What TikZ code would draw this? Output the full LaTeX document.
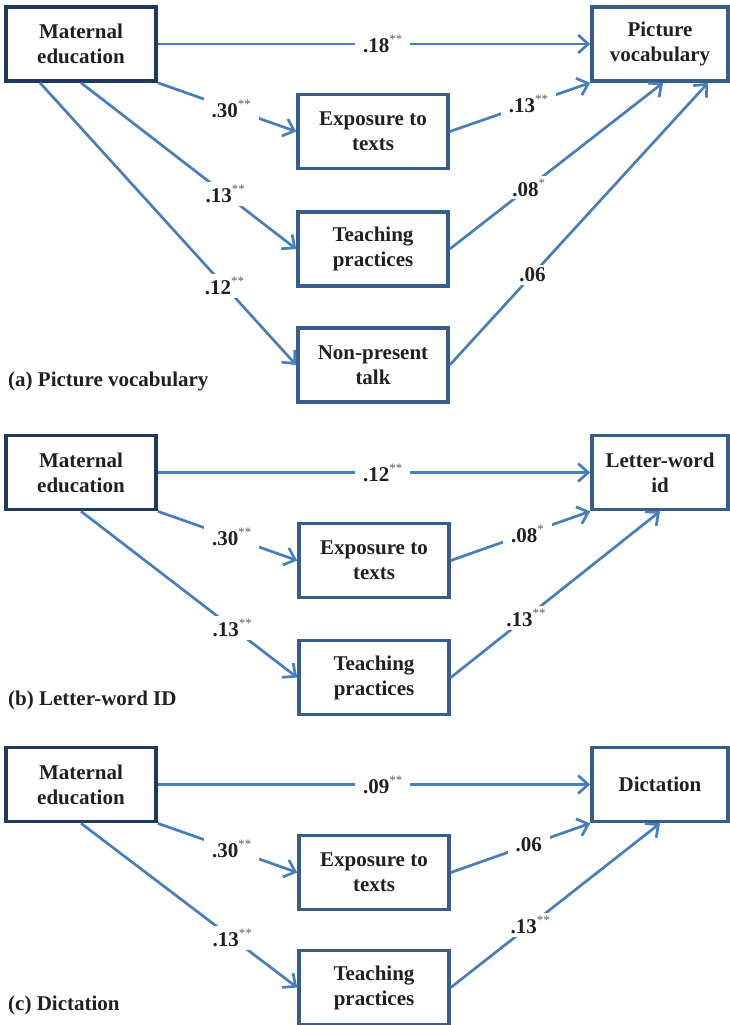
\documentclass[tikz,border=0pt]{standalone}
\usepackage{fontspec}
\setmainfont{Liberation Serif}
\usetikzlibrary{arrows.meta}

\definecolor{lineblue}{RGB}{74,126,187}
\definecolor{boxblue}{RGB}{56,93,138}
\definecolor{navy}{RGB}{31,56,96}
\definecolor{stargray}{RGB}{95,95,95}
\definecolor{inkblack}{RGB}{35,31,32}

\newcommand{\sig}[1]{\raisebox{9pt}{\mdseries\fontsize{13}{13}\selectfont\color{stargray}#1}}

\tikzset{
  var/.style={draw=boxblue, line width=3.6pt, align=center, minimum width=150pt,
    minimum height=74pt, inner sep=0pt, text=inkblack,
    font=\bfseries\fontsize{21}{25}\selectfont},
  exo/.style={var, draw=navy},
  outc/.style={var, minimum width=136pt},
  eff/.style={draw=lineblue, line width=2.7pt, -{Straight Barb[length=10pt,width=18pt]}},
  coef/.style={fill=white, inner xsep=8pt, inner ysep=3pt, text=inkblack,
    font=\bfseries\fontsize{21}{25}\selectfont},
  caption/.style={anchor=base west, inner sep=0pt, text=inkblack,
    font=\bfseries\fontsize{21}{25}\selectfont}
}

\begin{document}
\begin{tikzpicture}[x=1pt,y=-1pt]
    \useasboundingbox (0,0) rectangle (730,1025);

    % (a) picture vocabulary
    \node[exo] (mea) at (81,44) {Maternal\\education};
    \node[outc] (pva) at (660,44) {Picture\\vocabulary};
    \node[var] (expa) at (373,131.5) {Exposure to\\texts};
    \node[var] (teaa) at (373,249) {Teaching\\practices};
    \node[var] (npta) at (373,365) {Non-present\\talk};
    \node[caption] (capa) at (8,386) {(a) Picture vocabulary};

    \draw[eff] (mea.east) -- node[coef,pos=0.52] {.18\sig{**}} (pva.west);
    \draw[eff] (mea.south east) -- node[coef,pos=0.53] {.30\sig{**}} (expa.west);
    \draw[eff] (mea.south) -- node[coef,pos=0.67] {.13\sig{**}} (teaa.west);
    \draw[eff] ([xshift=-41pt]mea.south) -- node[coef,pos=0.72] {.12\sig{**}} (npta.west);
    \draw[eff] (expa.east) -- node[coef,pos=0.56] {.13\sig{**}} (pva.south west);
    \draw[eff] (teaa.east) -- node[coef,pos=0.37] {.08\sig{*}} ([xshift=3pt]pva.south);
    \draw[eff] (npta.east) -- node[coef,pos=0.32] {.06} ([xshift=48pt]pva.south);

    % (b) letter-word id
    \node[exo] (meb) at (81,472.5) {Maternal\\education};
    \node[outc] (lwb) at (660,472.5) {Letter-word\\id};
    \node[var] (expb) at (374,560.5) {Exposure to\\texts};
    \node[var] (teab) at (374,677.5) {Teaching\\practices};
    \node[caption] (capb) at (8,705) {(b) Letter-word ID};

    \draw[eff] (meb.east) -- node[coef,pos=0.52] {.12\sig{**}} (lwb.west);
    \draw[eff] (meb.south east) -- node[coef,pos=0.53] {.30\sig{**}} (expb.west);
    \draw[eff] (meb.south) -- node[coef,pos=0.70] {.13\sig{**}} (teab.west);
    \draw[eff] (expb.east) -- node[coef,pos=0.55] {.08\sig{*}} (lwb.south west);
    \draw[eff] (teab.east) -- node[coef,pos=0.36] {.13\sig{**}} (lwb.south);

    % (c) dictation
    \node[exo] (mec) at (81,784.5) {Maternal\\education};
    \node[outc] (dicc) at (660,784.5) {Dictation};
    \node[var] (expc) at (374,872.5) {Exposure to\\texts};
    \node[var] (teac) at (374,987.5) {Teaching\\practices};
    \node[caption] (capc) at (8,1010) {(c) Dictation};

    \draw[eff] (mec.east) -- node[coef,pos=0.52] {.09\sig{**}} (dicc.west);
    \draw[eff] (mec.south east) -- node[coef,pos=0.53] {.30\sig{**}} (expc.west);
    \draw[eff] (mec.south) -- node[coef,pos=0.70] {.13\sig{**}} (teac.west);
    \draw[eff] (expc.east) -- node[coef,pos=0.56] {.06} (dicc.south west);
    \draw[eff] (teac.east) -- node[coef,pos=0.38] {.13\sig{**}} (dicc.south);
\end{tikzpicture}
\end{document}
